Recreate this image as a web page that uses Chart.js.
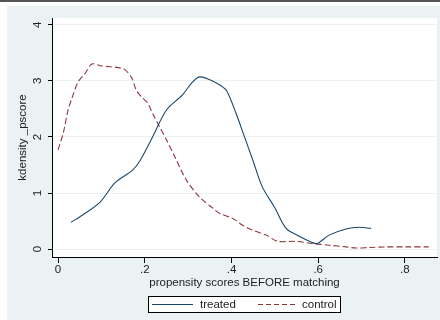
<!DOCTYPE html>
<html>
<head>
<meta charset="utf-8">
<script src="https://cdn.jsdelivr.net/npm/chart.js@4/dist/chart.umd.min.js"></script>
<style>
  html, body { margin: 0; padding: 0; background: #fff; }
  #wrap { width: 440px; height: 320px; }
</style>
</head>
<body>
<div id="wrap"><canvas id="kd" width="440" height="320"></canvas></div>
<script>
/* ===================== DATA ===================== */

const treatedX = [0.03, 0.055, 0.097, 0.131, 0.172, 0.19, 0.218, 0.25, 0.287, 0.308, 0.326, 0.35, 0.372, 0.389, 0.41, 0.43, 0.449, 0.471, 0.499, 0.526, 0.556, 0.586, 0.598, 0.625, 0.664, 0.694, 0.722];
const treatedY = [0.48, 0.6, 0.84, 1.18, 1.41, 1.59, 2.0, 2.48, 2.75, 2.96, 3.07, 3.02, 2.93, 2.82, 2.43, 2.0, 1.59, 1.11, 0.75, 0.37, 0.23, 0.12, 0.1, 0.25, 0.36, 0.39, 0.37];

const controlX = [0, 0.012, 0.023, 0.032, 0.046, 0.062, 0.078, 0.097, 0.12, 0.135, 0.154, 0.17, 0.18, 0.193, 0.207, 0.218, 0.234, 0.25, 0.269, 0.296, 0.326, 0.357, 0.372, 0.402, 0.425, 0.448, 0.48, 0.506, 0.549, 0.586, 0.625, 0.664, 0.687, 0.717, 0.756, 0.8, 0.855];
const controlY = [1.77, 2.07, 2.48, 2.69, 2.98, 3.13, 3.3, 3.27, 3.25, 3.24, 3.2, 3.05, 2.84, 2.71, 2.6, 2.42, 2.18, 1.95, 1.65, 1.23, 0.93, 0.73, 0.64, 0.55, 0.43, 0.34, 0.25, 0.14, 0.14, 0.1, 0.07, 0.04, 0.02, 0.03, 0.04, 0.04, 0.04];

const xTicks = [0, 0.2, 0.4, 0.6, 0.8];
const yTicks = [0, 1, 2, 3, 4];

const seriesLabels = ["treated", "control"];
const xTitle = "propensity scores BEFORE matching";
const yTitle = "kdensity _pscore";

/* ===================== STYLE ===================== */

const BG = "#eaf2f3";
const FONT = "'Liberation Sans', Arial, sans-serif";
const TXT = "#222";

const toPoints = (xs, ys) => xs.map((x, i) => ({ x, y: ys[i] }));

const fmtTick = (v) => (v === 0 ? "0" : String(+v.toFixed(1)).replace(/^0/, ""));

/* ===================== PLUGIN ===================== */

const stataFrame = {
  id: "stataFrame",
  beforeDraw(chart) {
    const { ctx, chartArea: a, width, height } = chart;
    ctx.save();
    ctx.fillStyle = "#fff";
    ctx.fillRect(0, 0, width, height);
    ctx.fillStyle = BG;
    ctx.fillRect(7, 6, width - 7, height - 6);
    ctx.fillStyle = "#555";
    ctx.fillRect(0, 0, width, 2);
    ctx.fillStyle = "#fff";
    ctx.fillRect(a.left, a.top, a.right - a.left, a.bottom - a.top);
    ctx.restore();
  },
  afterDraw(chart) {
    // legend box, stata style
    const { ctx } = chart;
    const ds = chart.data.datasets;
    const bx = 148.5, by = 296.5, bw = 192, bh = 16;
    ctx.save();
    ctx.fillStyle = "#fff";
    ctx.fillRect(bx, by, bw, bh);
    ctx.strokeStyle = "#000";
    ctx.lineWidth = 1;
    ctx.strokeRect(bx, by, bw, bh);
    ctx.font = "11.5px " + FONT;
    ctx.fillStyle = TXT;
    ctx.textBaseline = "middle";
    const ly = by + bh / 2;
    const items = [
      { x0: 152, x1: 193, tx: 200 },
      { x0: 258, x1: 297, tx: 302 },
    ];
    items.forEach((it, i) => {
      ctx.beginPath();
      ctx.strokeStyle = ds[i].borderColor;
      ctx.lineWidth = ds[i].borderWidth;
      ctx.setLineDash(ds[i].borderDash ? [5, 3] : []);
      ctx.moveTo(it.x0, ly);
      ctx.lineTo(it.x1, ly);
      ctx.stroke();
      ctx.setLineDash([]);
      ctx.fillText(ds[i].label, it.tx, ly + 0.5);
    });
    ctx.restore();
  },
};

/* ===================== CHART ===================== */

new Chart(document.getElementById("kd"), {
  type: "line",
  data: {
    datasets: [
      {
        label: seriesLabels[0],
        data: toPoints(treatedX, treatedY),
        borderColor: "#1a476f",
        borderWidth: 1.1,
        pointRadius: 0,
        tension: 0.3,
        fill: false,
      },
      {
        label: seriesLabels[1],
        data: toPoints(controlX, controlY),
        borderColor: "#90353b",
        borderWidth: 1.1,
        borderDash: [6, 3],
        pointRadius: 0,
        tension: 0.3,
        fill: false,
      },
    ],
  },
  options: {
    responsive: false,
    devicePixelRatio: 1,
    animation: false,
    layout: { padding: { left: 7, top: 18, right: 3, bottom: 30 } },
    plugins: { legend: { display: false }, tooltip: { enabled: false } },
    scales: {
      x: {
        type: "linear",
        min: -0.014,
        max: 0.874,
        afterBuildTicks: (s) => { s.ticks = xTicks.map((v) => ({ value: v })); },
        afterFit: (s) => { s.height = 33; },
        grid: { drawOnChartArea: false, tickLength: 6, tickColor: "#000", tickWidth: 1 },
        border: { color: "#000", width: 1 },
        ticks: {
          callback: fmtTick,
          padding: 0,
          maxRotation: 0,
          color: TXT,
          font: { family: FONT, size: 11.5 },
        },
        title: {
          display: true,
          text: xTitle,
          color: TXT,
          font: { family: FONT, size: 11.5 },
          padding: { top: 0, bottom: 0 },
        },
      },
      y: {
        type: "linear",
        min: -0.14,
        max: 4.12,
        afterBuildTicks: (s) => { s.ticks = yTicks.map((v) => ({ value: v })); },
        afterFit: (s) => { s.width = 45; },
        grid: { color: BG, tickLength: 4, tickColor: "#000", tickWidth: 1 },
        border: { color: "#000", width: 1 },
        ticks: {
          callback: fmtTick,
          minRotation: 90,
          maxRotation: 90,
          crossAlign: "center",
          padding: 7,
          color: TXT,
          font: { family: FONT, size: 11.5 },
        },
        title: {
          display: true,
          text: yTitle,
          color: TXT,
          font: { family: FONT, size: 11.5 },
          padding: { top: 9, bottom: 0 },
        },
      },
    },
  },
  plugins: [stataFrame],
});
</script>
</body>
</html>
